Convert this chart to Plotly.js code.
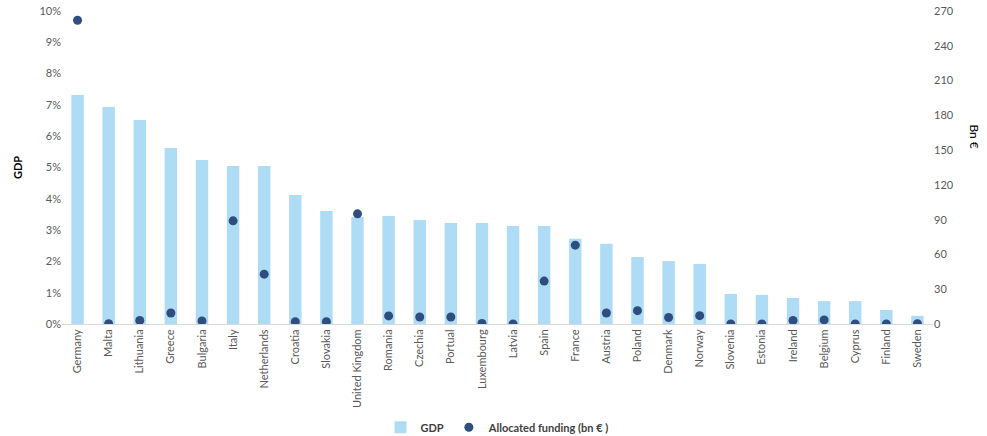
<!DOCTYPE html>
<html><head><meta charset="utf-8">
<script src="https://cdn.plot.ly/plotly-3.0.1.min.js"></script>
<style>html,body{margin:0;padding:0;background:#fff}#chart{width:987px;height:436px}</style>
</head><body><div id="chart"></div>
<script>
const countries = ["Germany","Malta","Lithuania","Greece","Bulgaria","Italy","Netherlands","Croatia","Slovakia","United Kingdom","Romania","Czechia","Portual","Luxembourg","Latvia","Spain","France","Austria","Poland","Denmark","Norway","Slovenia","Estonia","Ireland","Belgium","Cyprus","Finland","Sweden"];
const gdpShare = [7.32,6.93,6.52,5.62,5.24,5.05,5.05,4.12,3.61,3.42,3.45,3.32,3.23,3.23,3.13,3.13,2.72,2.56,2.14,2.01,1.92,0.96,0.93,0.83,0.73,0.73,0.45,0.26];
const funding = [262,0.3,3,9.5,2.6,89,43,2,2,95,7,6,6,0.5,0.1,37,68,9.5,11.5,5.6,7.2,0.1,0,3,3.5,0.1,0.1,0.3];

const fam = "Lato, 'Noto Sans', sans-serif";
const tickFont = {family:fam, size:11, color:"#595959"};
const data = [
  {type:"bar", name:"GDP", x:countries, y:gdpShare.map(v=>v/100), marker:{color:"#AEDCF5"}, width:0.4, yaxis:"y"},
  {type:"scatter", mode:"markers", name:"Allocated funding (bn € )", x:countries, y:funding, yaxis:"y2", marker:{color:"#2E4E7F", size:9}}
];
const layout = {
  width:987, height:436,
  margin:{l:62, r:54, t:11, b:112, autoexpand:false},
  paper_bgcolor:"#fff", plot_bgcolor:"#fff",
  font:tickFont,
  showlegend:true,
  legend:{orientation:"h", x:0.5, xanchor:"center", y:-0.33, yanchor:"middle", font:{family:fam, size:11, color:"#404040", weight:"bold"}, itemwidth:30, traceorder:"normal"},
  xaxis:{type:"category", range:[-0.5, countries.length-0.5], autorange:false, tickangle:-90, tickfont:tickFont, showline:true, linecolor:"#D9D9D9", linewidth:1, ticks:"", showgrid:false, zeroline:false, automargin:false},
  yaxis:{range:[0,0.1], tickformat:".0%", dtick:0.01, tickfont:tickFont, showgrid:false, zeroline:false, ticks:"", showline:false, automargin:false,
    title:{text:"GDP", font:{family:fam, size:11, color:"#000", weight:"bold"}, standoff:14}},
  yaxis2:{range:[0,270], dtick:30, overlaying:"y", side:"right", tickfont:tickFont, showgrid:false, zeroline:false, ticks:"", showline:false, automargin:false},
  annotations:[{text:"Bn €", xref:"paper", yref:"paper", x:1.048, y:0.6, xanchor:"center", yanchor:"middle", textangle:90, showarrow:false, font:{family:fam, size:12, color:"#000"}}]
};
Plotly.newPlot("chart", data, layout, {displayModeBar:false, staticPlot:true});
</script></body></html>
